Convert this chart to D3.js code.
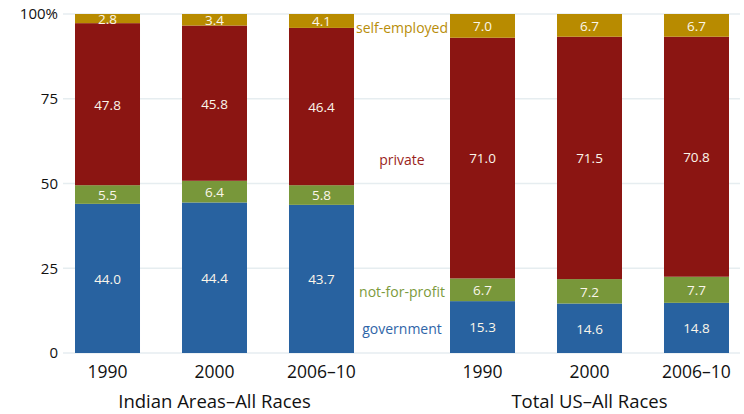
<!DOCTYPE html>
<html><head><meta charset="utf-8">
<script src="https://cdn.jsdelivr.net/npm/d3@7"></script>
<style>body{margin:0;background:#fff}svg{display:block}text{font-family:"Open Sans",sans-serif}</style>
</head><body>
<svg id="c" width="744" height="414"></svg>
<script>
const groups = ["Indian Areas–All Races", "Total US–All Races"];
const years = ["1990", "2000", "2006–10"];
const seriesNames = ["government", "not-for-profit", "private", "self-employed"];
const indianGov = [44.0, 44.4, 43.7];
const indianNfp = [5.5, 6.4, 5.8];
const indianPriv = [47.8, 45.8, 46.4];
const indianSelf = [2.8, 3.4, 4.1];
const usGov = [15.3, 14.6, 14.8];
const usNfp = [6.7, 7.2, 7.7];
const usPriv = [71.0, 71.5, 70.8];
const usSelf = [7.0, 6.7, 6.7];
const yTicks = [0, 25, 50, 75, 100];

const colors = {"government":"#2862a0","not-for-profit":"#78973a","private":"#8b1512","self-employed":"#b88b00"};
const labelColors = {"government":"#2f65a8","not-for-profit":"#7c9a3c","private":"#9a1f1c","self-employed":"#b88d0a"};

const groupData = [
  [indianGov, indianNfp, indianPriv, indianSelf],
  [usGov, usNfp, usPriv, usSelf]
];

const svg = d3.select("#c");
const y = d3.scaleLinear().domain([0, 100]).range([353, 14]);
const xs = [
  d3.scaleBand().domain(years).range([54, 375]).paddingInner(0.3925).paddingOuter(0.1963),
  d3.scaleBand().domain(years).range([429, 750]).paddingInner(0.3925).paddingOuter(0.1963)
];

svg.append("g").selectAll("line").data(yTicks).join("line")
  .attr("x1", 63).attr("x2", 740)
  .attr("y1", d => y(d)).attr("y2", d => y(d))
  .attr("stroke", "#e6edf0").attr("stroke-width", 1.5);

svg.append("g").selectAll("text").data(yTicks).join("text")
  .attr("x", 58).attr("y", d => y(d)).attr("dy", "0.35em")
  .attr("text-anchor", "end").attr("font-size", 15).attr("fill", "#111")
  .text(d => d === 100 ? "100%" : d);

groupData.forEach((gd, gi) => {
  const x = xs[gi];
  const rows = years.map((yr, i) => {
    const o = {year: yr};
    seriesNames.forEach((s, si) => o[s] = gd[si][i]);
    return o;
  });
  const stack = d3.stack().keys(seriesNames)(rows);
  const g = svg.append("g");
  stack.forEach(layer => {
    const key = layer.key;
    g.append("g").selectAll("rect").data(layer).join("rect")
      .attr("x", d => x(d.data.year))
      .attr("width", x.bandwidth())
      .attr("y", d => y(Math.min(d[1], 100)))
      .attr("height", d => y(d[0]) - y(Math.min(d[1], 100)))
      .attr("fill", colors[key]);
    g.append("g").selectAll("text").data(layer).join("text")
      .attr("x", d => x(d.data.year) + x.bandwidth() / 2)
      .attr("y", d => (y(d[0]) + y(Math.min(d[1], 100))) / 2)
      .attr("dy", "0.4em").attr("text-anchor", "middle")
      .attr("font-size", 13.5).attr("fill", "#fbf6ea")
      .text(d => d3.format(".1f")(d.data[key]));
  });
  g.append("g").selectAll("text").data(years).join("text")
    .attr("x", d => x(d) + x.bandwidth() / 2).attr("y", 372).attr("dy", "0.35em")
    .attr("text-anchor", "middle").attr("font-size", 17.5).attr("fill", "#111")
    .text(d => d);
  g.append("text")
    .attr("x", (x(years[0]) + x(years[2]) + x.bandwidth()) / 2).attr("y", 402).attr("dy", "0.32em")
    .attr("text-anchor", "middle").attr("font-size", 18.5).attr("fill", "#111")
    .text(groups[gi]);

  if (gi === 1) {
    const lx = (xs[0](years[2]) + xs[0].bandwidth() + x(years[0])) / 2;
    svg.append("g").selectAll("text").data(stack).join("text")
      .attr("x", lx)
      .attr("y", l => (y(l[0][0]) + y(Math.min(l[0][1], 100))) / 2)
      .attr("dy", "0.5em").attr("text-anchor", "middle")
      .attr("font-size", 14).attr("fill", l => labelColors[l.key])
      .text(l => l.key);
  }
});
</script>
</body></html>
